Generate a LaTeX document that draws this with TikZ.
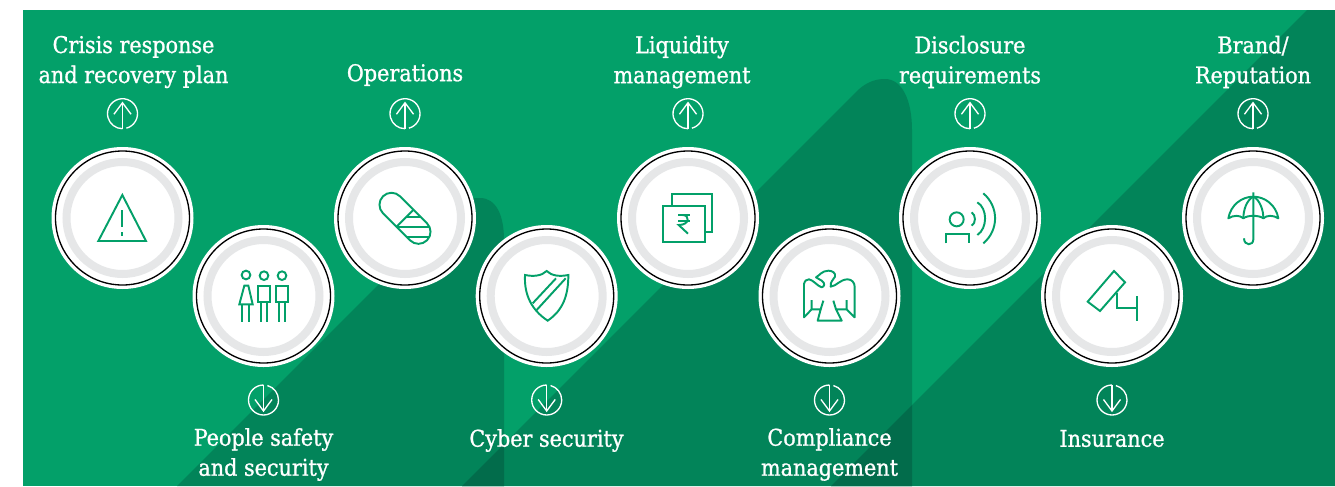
\documentclass[tikz,border=0pt]{standalone}
\usepackage{fontspec}
\setmainfont{DejaVu Serif Condensed}[FakeBold=1]
\definecolor{mainG}{HTML}{03A069}
\definecolor{darkG}{HTML}{028459}
\definecolor{deepG}{HTML}{026C4B}
\definecolor{ringG}{HTML}{E6E7E8}
\tikzset{
  disc/.style={circle,fill=white,inner sep=0pt,minimum size=106.5pt},
  ringblack/.style={circle,draw=black,line width=1pt,inner sep=0pt,minimum size=100.5pt},
  ringgrey/.style={circle,draw=ringG,line width=6pt,inner sep=0pt,minimum size=84pt},
  lab/.style={text=white,align=center,inner sep=0pt,font=\fontsize{17.3}{22.5}\selectfont},
  ico/.style={draw=mainG,line width=1.45pt,line join=miter},
  iconat/.style={shift={#1},x=.25pt,y=-.25pt},
  arw/.style={draw=white,line width=1pt},
  uparrow/.pic={
    \draw[arw] (285:11.25pt) arc (285:630:11.25pt);
    \draw[arw] (0pt,-11.25pt) -- (0pt,8.25pt);
    \draw[arw] (-6.4pt,-.4pt) -- (0pt,8.25pt) -- (6.4pt,-.4pt);
  },
  downarrow/.pic={
    \draw[arw] (90:11.25pt) arc (90:435:11.25pt);
    \draw[arw] (0pt,11.25pt) -- (0pt,-8.25pt);
    \draw[arw] (-6.4pt,.4pt) -- (0pt,-8.25pt) -- (6.4pt,.4pt);
  }
}
\begin{document}
\begin{tikzpicture}[x=.75pt,y=-.75pt]
\useasboundingbox (0,0) rectangle (1335,486);
\fill[white] (0,0) rectangle (1335,486);
\fill[mainG] (23,10) rectangle (1335,486);
% dark background shapes
\fill[darkG] (177,486) -- (457,206) .. controls (465,199) and (472,198) .. (480,198)
  .. controls (496,198) and (504,215) .. (504,240) -- (504,486) -- cycle;
\fill[darkG] (462,486) -- (858,90) .. controls (868,81) and (877,79) .. (885,79)
  .. controls (902,79) and (912,100) .. (912,130) -- (912,486) -- cycle;
\fill[darkG] (831,486) -- (1307,10) -- (1335,10) -- (1335,486) -- cycle;
\fill[deepG] (462,486) -- (504,444) -- (504,486) -- cycle;
\fill[deepG] (831,486) -- (912,405) -- (912,486) -- cycle;
% discs
\foreach \n/\x/\y in {1/122.5/218,2/263.5/296,3/405/218,4/546.7/296,5/688/218,6/829.5/296,7/970/218,8/1112/296,9/1253/218}{
  \node[disc] (d\n) at (\x,\y) {};
  \node[ringblack] (b\n) at (\x,\y) {};
  \node[ringgrey] (g\n) at (\x,\y) {};
}
% arrows
\foreach \x in {122.5,405,688,970,1253} \pic at (\x,113.7) {uparrow};
\foreach \x in {263.5,546.7,829.5,1112} \pic at (\x,400) {downarrow};
% labels
\node[lab] (t1) at (133.5,62) {Crisis response\\and recovery plan};
\node[lab] (t3) at (405,75) {Operations};
\node[lab] (t5) at (682,62) {Liquidity\\management};
\node[lab] (t7) at (970,62) {Disclosure\\requirements};
\node[lab] (t9) at (1253,62) {Brand/\\Reputation};
\node[lab] (t2) at (263.5,454.5) {People safety\\and security};
\node[lab] (t4) at (546.5,440.5) {Cyber security};
\node[lab] (t6) at (829.5,454.5) {Compliance\\management};
\node[lab] (t8) at (1112,438.5) {Insurance};
% warning
\begin{scope}[iconat={(60,160)}]
  \draw[ico] (187,105) -- (258,243) -- (115,243) -- cycle;
  \draw[ico] (187,150) -- (187,202);
  \draw[ico] (187,217) -- (187,227);
\end{scope}
% people
\begin{scope}[iconat={(200,235)}]
  \draw[ico] (138,120) circle (13);
  \draw[ico] (192,122) circle (13);
  \draw[ico] (246,122) circle (13);
  \draw[ico] (133,152) -- (145,152) -- (158,208) -- (118,208) -- cycle;
  \draw[ico] (127,208) -- (127,262) (147,208) -- (147,262);
  \draw[ico] (174,152) rectangle (210,200);
  \draw[ico] (184,200) -- (184,262) (202,200) -- (202,262);
  \draw[ico] (228,152) rectangle (264,200);
  \draw[ico] (238,200) -- (238,262) (256,200) -- (256,262);
\end{scope}
% capsule
\begin{scope}
  \clip[rounded corners=9pt] (391.5,187.8) -- (435.5,231.8) -- (418.5,248.8) -- (374.5,204.8) -- cycle;
  \draw[ico] (396.5,226.8) -- (413.5,209.8);
  \clip (396.5,226.8) -- (413.5,209.8) -- (445,241) -- (428,258) -- cycle;
  \draw[ico] (400,216.7) -- (440,216.7);
  \draw[ico] (390,226.7) -- (440,226.7);
  \draw[ico] (390,236.7) -- (440,236.7);
\end{scope}
\draw[ico,rounded corners=9pt] (391.5,187.8) -- (435.5,231.8) -- (418.5,248.8) -- (374.5,204.8) -- cycle;
% shield
\begin{scope}[iconat={(500,260)}]
  \draw[ico] (75,45) .. controls (100,50) and (125,48) .. (140,33)
    .. controls (155,48) and (180,50) .. (205,45)
    .. controls (205,105) and (190,150) .. (143,182)
    .. controls (95,150) and (72,105) .. (75,45) -- cycle;
  \draw[ico] (98,130) -- (168,55);
  \draw[ico] (110,150) -- (197,55);
\end{scope}
% rupee notes
\begin{scope}[iconat={(640,180)}]
  \draw[ico] (95,78) -- (95,43) -- (216,43) -- (216,155) -- (195,155);
  \draw[ico] (70,78) rectangle (195,185);
  \draw[ico] (115,105) -- (150,105) (115,123) -- (150,123);
  \draw[ico] (128,105) .. controls (150,105) and (150,135) .. (116,135) -- (144,161);
\end{scope}
% eagle
\begin{scope}[iconat={(780,260)}]
  \draw[ico,line join=round] (72,172) -- (72,72) .. controls (74,62) and (80,58) .. (87,58)
    .. controls (100,60) and (112,78) .. (125,82) .. controls (133,80) and (137,70) .. (125,62)
    -- (108,52) .. controls (120,45) and (125,33) .. (145,32)
    .. controls (158,32) and (168,40) .. (165,50) .. controls (162,60) and (150,62) .. (152,80)
    .. controls (170,78) and (180,58) .. (203,58) .. controls (215,58) and (224,68) .. (224,80)
    -- (224,172) -- (200,148) -- (168,148) -- (185,182) -- (113,182) -- (122,148) -- (95,148) -- cycle;
  \draw[ico] (95,148) -- (95,120) (130,122) -- (122,148) (160,122) -- (168,148) (200,148) -- (200,120);
\end{scope}
% signal
\begin{scope}[iconat={(920,180)}]
  \draw[ico] (110,118) circle (21);
  \draw[ico] (77,190) -- (77,163) -- (148,163) -- (148,190);
  \draw[ico] (155,97) .. controls (168,105) and (168,130) .. (155,137);
  \draw[ico] (172,67) .. controls (203,85) and (203,145) .. (172,165);
  \draw[ico] (190,40) .. controls (237,80) and (237,150) .. (190,190);
\end{scope}
% camera
\begin{scope}[iconat={(1060,260)}]
  \draw[ico] (162,33) -- (195,67) -- (120,153) -- (83,125) -- cycle;
  \draw[ico] (170,100) -- (170,145) -- (230,145);
  \draw[ico] (230,108) -- (230,183);
\end{scope}
% umbrella
\begin{scope}[iconat={(1000,0)}]
  \draw[ico,line join=round] (685,655) .. controls (692,615) and (725,590) .. (760,590)
    .. controls (795,590) and (828,615) .. (835,655)
    .. controls (820,645) and (800,645) .. (790,655)
    .. controls (778,645) and (742,645) .. (730,655)
    .. controls (720,645) and (700,645) .. (685,655) -- cycle;
  \draw[ico] (760,590) .. controls (740,600) and (730,630) .. (730,655);
  \draw[ico] (760,590) .. controls (780,600) and (790,630) .. (790,655);
  \draw[ico] (760,577) -- (760,718) .. controls (760,738) and (732,738) .. (732,715);
\end{scope}
\end{tikzpicture}
\end{document}
